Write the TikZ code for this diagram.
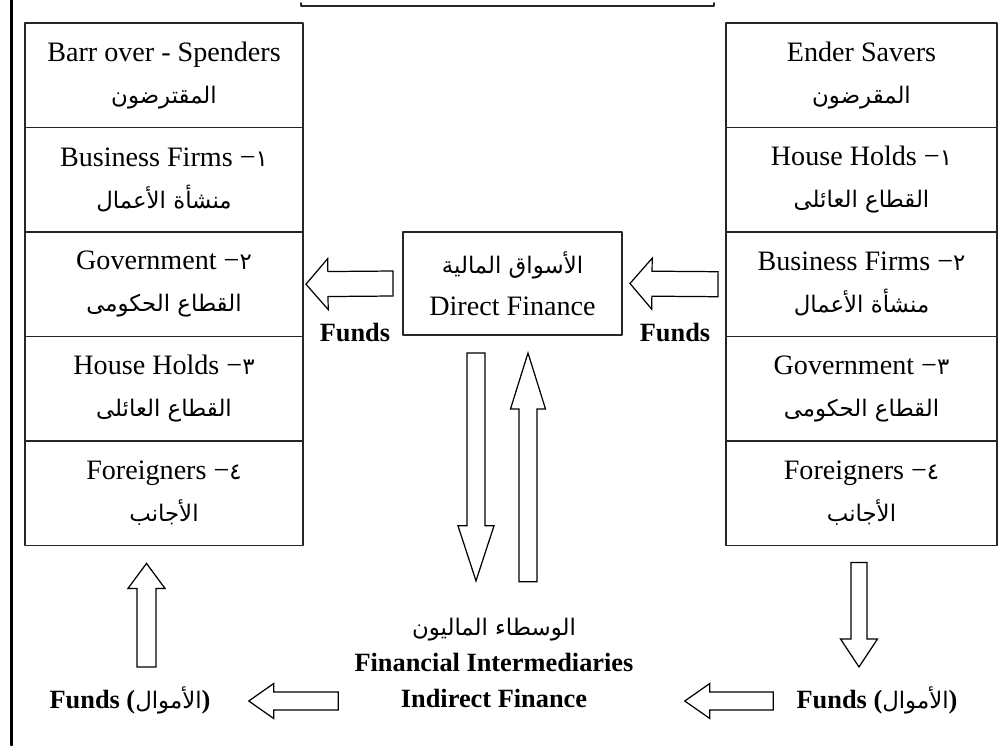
\documentclass[tikz,border=0pt]{standalone}
\usepackage{fontspec}
\setmainfont{Liberation Serif}
\newfontfamily\arabicfont[Script=Arabic]{DejaVu Sans}
\TeXXeTstate=1
\usepackage{tikz}
\usetikzlibrary{calc,positioning}
\definecolor{qqqqqq}{rgb}{0.15,0.15,0.15}
\newcommand{\artext}[1]{{\arabicfont\mdseries\fontsize{13}{20}\selectfont\beginR #1\endR}}
\newcommand{\ardig}[1]{{\arabicfont\mdseries\fontsize{13}{20}\selectfont #1}}
% hollow block arrow: tail, tip, shaft half width, head half width, head length
\newcommand{\fatarrow}[5]{%
\coordinate (hb) at ($(#2)!#5!(#1)$);
\draw [fat] ($(#1)!#3!90:(#2)$) -- ($(hb)!#3!90:(#2)$) -- ($(hb)!#4!90:(#2)$) -- (#2) -- ($(hb)!#4!-90:(#2)$) -- ($(hb)!#3!-90:(#2)$) -- ($(#1)!#3!-90:(#2)$) -- cycle;}

\begin{document}
\begin{tikzpicture}[line cap=round,line join=round,x=0.02cm,y=-0.02cm,
cell/.style={draw=qqqqqq,line width=1pt,minimum width=5.56cm,minimum height=2.09cm,inner sep=0pt,outer sep=0pt,align=center,font=\fontsize{16}{24}\selectfont},
fat/.style={draw=black,fill=white,line width=0.7pt,line join=miter},
lab/.style={inner sep=0pt,align=center,font=\bfseries\fontsize{15}{20.5}\selectfont}]
\useasboundingbox (0,0) rectangle (1005,745);
\draw [line width=1.8pt] (11.5,0) -- (11.5,745);
\draw [color=qqqqqq,line width=1pt] (301,3) -- (301,6) -- (714,6) -- (714,3);
% borrowers
\node[cell] (b0) at (164,75.25) {Barr over - Spenders\\\artext{المقترضون}};
\node[cell,below=0pt of b0] (b1) {Business Firms −\ardig{١}\\\artext{منشأة الأعمال}};
\node[cell,below=0pt of b1] (b2) {Government −\ardig{٢}\\\artext{القطاع الحكومى}};
\node[cell,below=0pt of b2] (b3) {House Holds −\ardig{٣}\\\artext{القطاع العائلى}};
\node[cell,below=0pt of b3] (b4) {Foreigners −\ardig{٤}\\\artext{الأجانب}};
% lenders
\node[cell,minimum width=5.42cm] (c0) at (861.5,75.25) {Ender Savers\\\artext{المقرضون}};
\node[cell,minimum width=5.42cm,below=0pt of c0] (c1) {House Holds −\ardig{١}\\\artext{القطاع العائلى}};
\node[cell,minimum width=5.42cm,below=0pt of c1] (c2) {Business Firms −\ardig{٢}\\\artext{منشأة الأعمال}};
\node[cell,minimum width=5.42cm,below=0pt of c2] (c3) {Government −\ardig{٣}\\\artext{القطاع الحكومى}};
\node[cell,minimum width=5.42cm,below=0pt of c3] (c4) {Foreigners −\ardig{٤}\\\artext{الأجانب}};
% markets
\node[cell,minimum width=4.38cm,minimum height=2.06cm] (df) at (512.5,283.5) {\artext{الأسواق المالية}\\Direct Finance};
\node[lab] (fi) at (494,663) {\artext{الوسطاء الماليون}\\Financial Intermediaries\\Indirect Finance};
\node[lab] (fl) at (355,333) {Funds};
\node[lab] (fr) at (675,333) {Funds};
\node[lab] (bl) at (130,700) {Funds (\artext{الأموال})};
\node[lab] (br) at (877,700) {Funds (\artext{الأموال})};
% arrows
\coordinate (a1) at ($(df.west)+(-10,0)$);
\coordinate (a2) at ($(b2.east)+(3,0)$);
\fatarrow{a1}{a2}{0.25cm}{0.51cm}{0.44cm}
\coordinate (a3) at ($(c2.west)+(-8,0)$);
\coordinate (a4) at ($(df.east)+(8,0)$);
\fatarrow{a3}{a4}{0.25cm}{0.51cm}{0.44cm}
\coordinate (a5) at ($(df.south)+(-36.5,18)$);
\coordinate (a6) at ($(fi.north)+(-18,-37)$);
\fatarrow{a5}{a6}{0.18cm}{0.36cm}{1.1cm}
\coordinate (a7) at ($(fi.north)+(34,-36)$);
\coordinate (a8) at ($(df.south)+(15.5,18)$);
\fatarrow{a7}{a8}{0.18cm}{0.35cm}{1.12cm}
\coordinate (a9) at ($(bl.north)+(16.5,-19)$);
\coordinate (a10) at ($(b4.south)+(-17.5,18)$);
\fatarrow{a9}{a10}{0.19cm}{0.37cm}{0.5cm}
\coordinate (a11) at ($(c4.south)+(-2.5,17)$);
\coordinate (a12) at ($(br.north)+(-18,-19)$);
\fatarrow{a11}{a12}{0.16cm}{0.37cm}{0.56cm}
\coordinate (a13) at ($(fi.west)+(-16,38)$);
\coordinate (a14) at ($(bl.east)+(38,1)$);
\fatarrow{a13}{a14}{0.18cm}{0.35cm}{0.5cm}
\coordinate (a15) at ($(br.west)+(-23,1)$);
\coordinate (a16) at ($(fi.east)+(51,38)$);
\fatarrow{a15}{a16}{0.18cm}{0.35cm}{0.5cm}
\end{tikzpicture}
\end{document}
